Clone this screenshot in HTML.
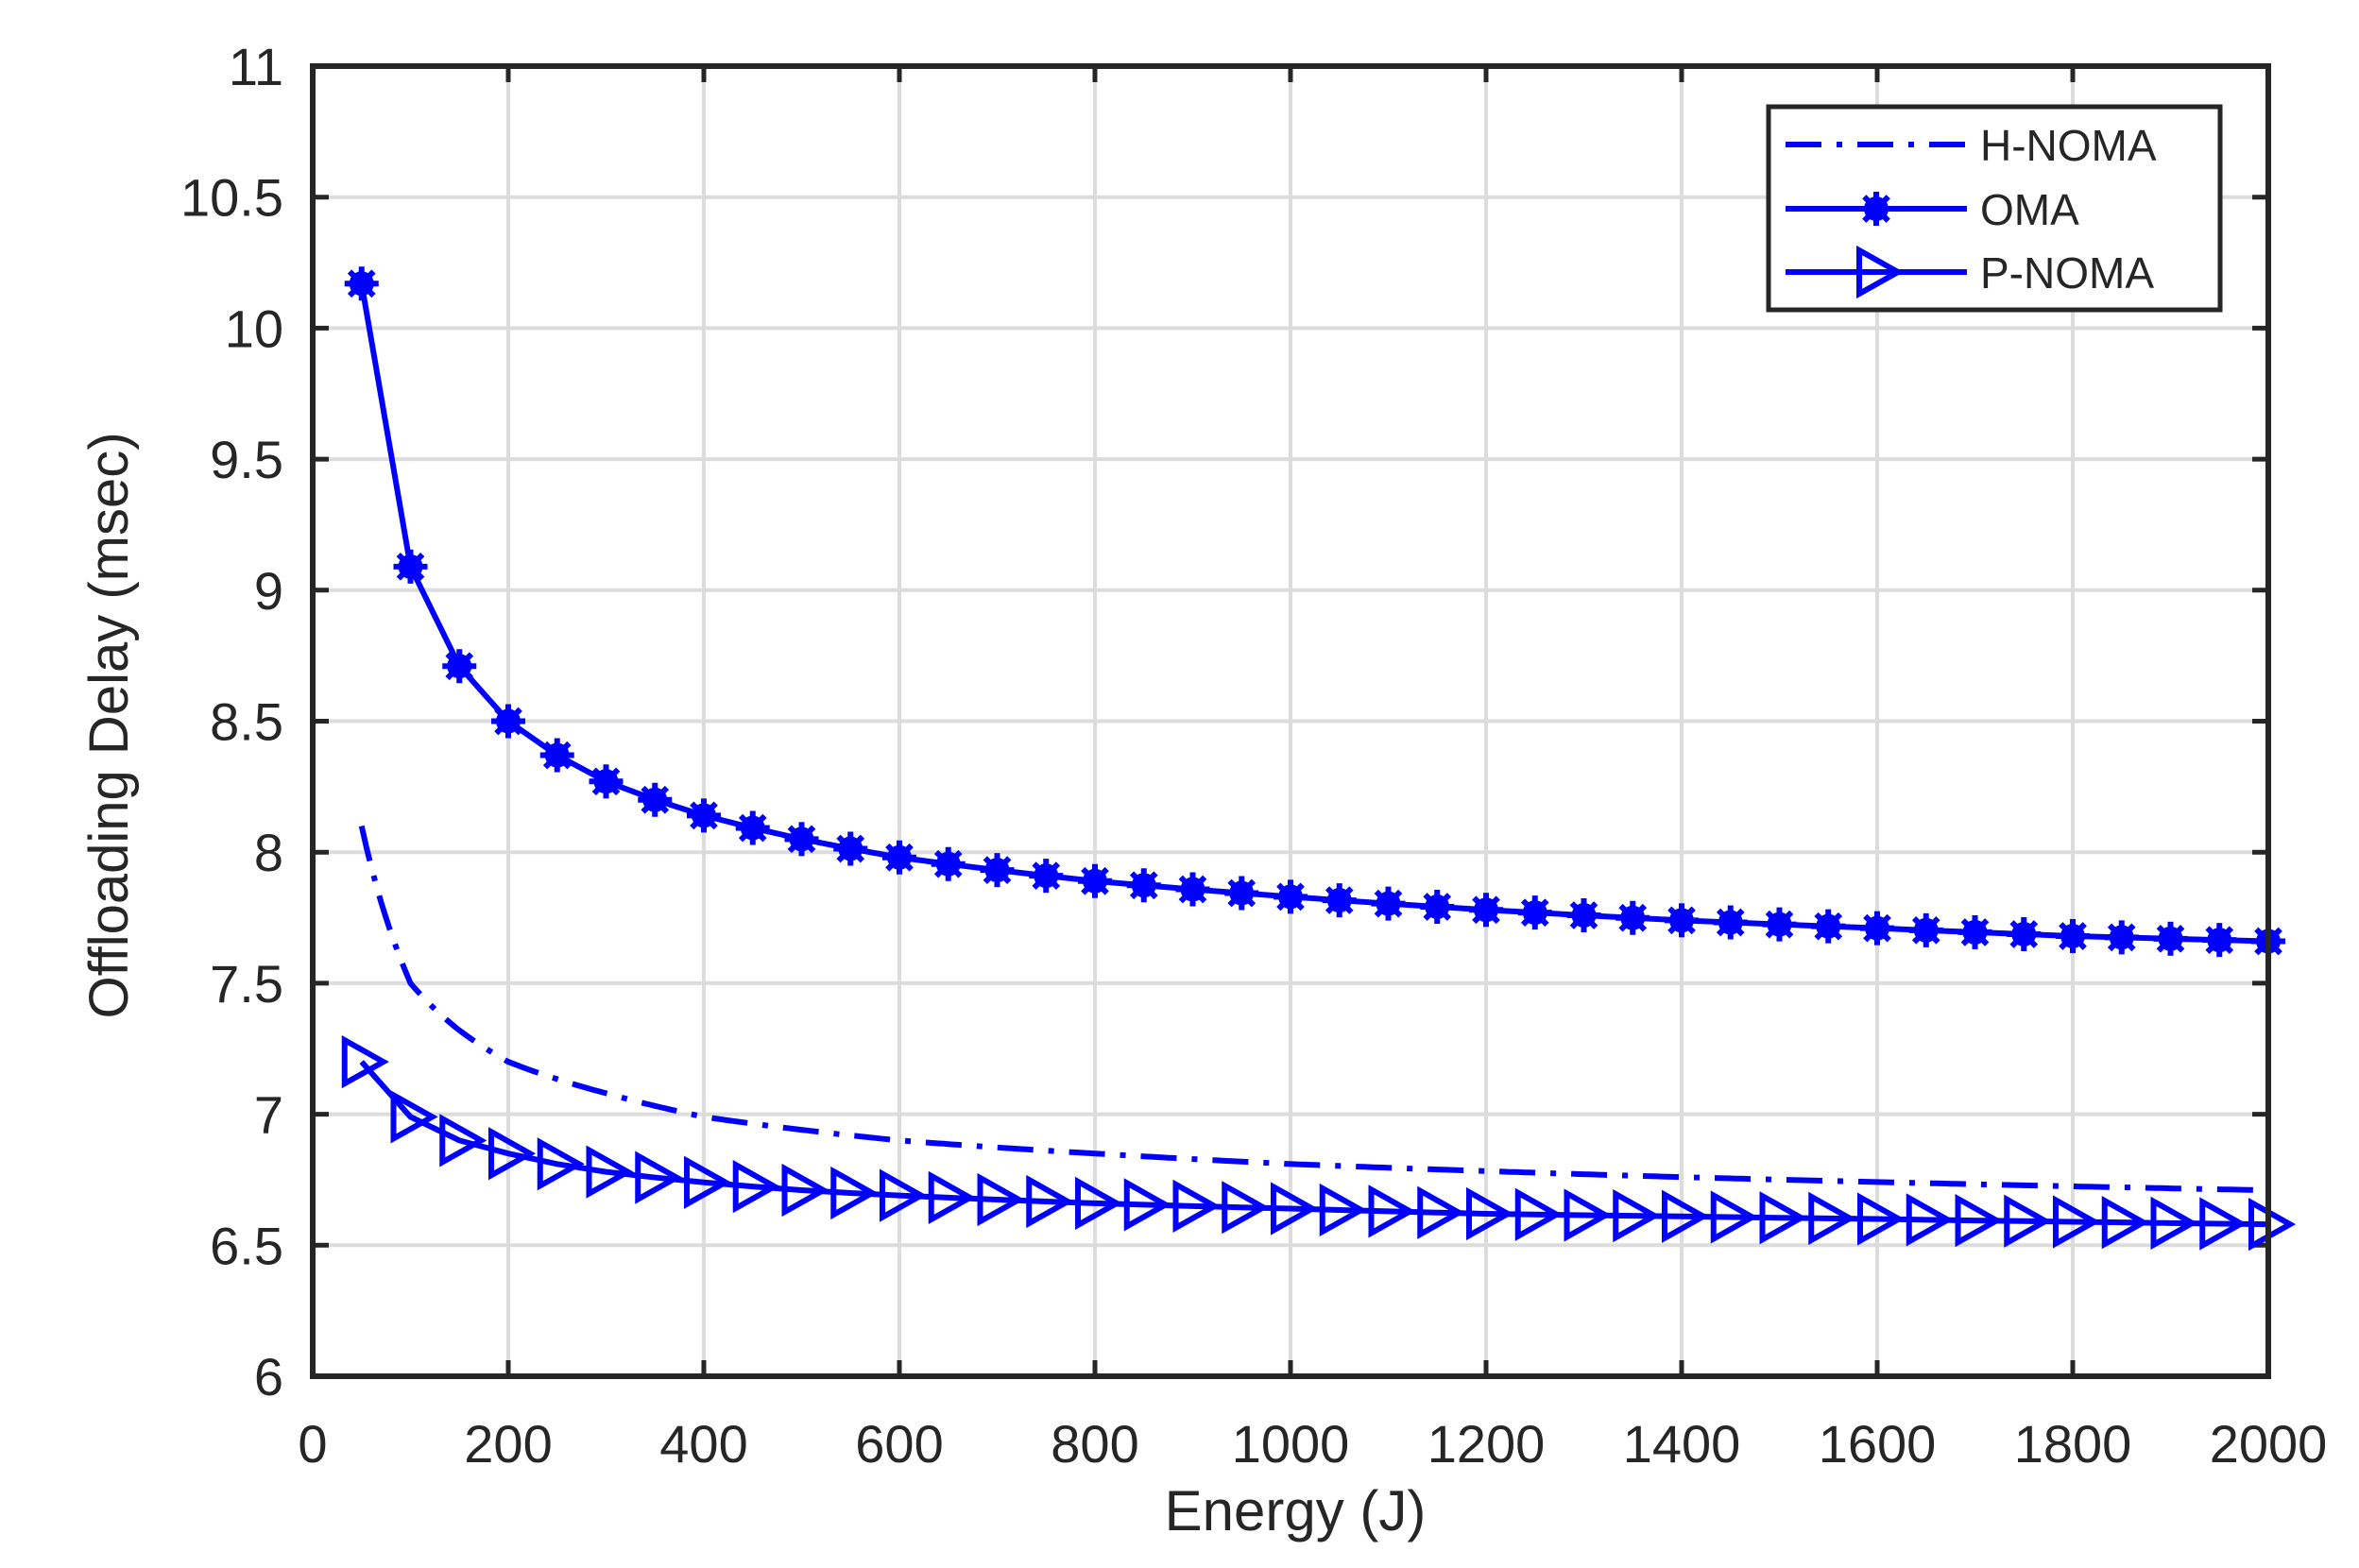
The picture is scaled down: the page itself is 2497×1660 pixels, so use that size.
<!DOCTYPE html>
<html><head><meta charset="utf-8"><style>
html,body{margin:0;padding:0;background:#fff;}
svg{display:block;}
text{font-family:"Liberation Sans",Arial,sans-serif;fill:#262626;}
</style></head><body>
<svg id="s" width="2497" height="1660" xmlns="http://www.w3.org/2000/svg">
<rect width="2497" height="1660" fill="#fff"/>
<g id="grid" stroke="#dcdcdc" stroke-width="4"></g>
<g id="ticks" stroke="#262626" stroke-width="5"></g>
<g id="labels" font-size="56"></g>
<g id="series"></g>
<rect x="331" y="70" width="2070" height="1387" fill="none" stroke="#262626" stroke-width="6"/>
<text x="1371" y="1620" font-size="60" text-anchor="middle">Energy (J)</text>
<text transform="translate(135,768) rotate(-90)" font-size="58" text-anchor="middle">Offloading Delay (msec)</text>
<g id="legend">
<rect x="1872" y="113" width="478" height="215" fill="#fff" stroke="#262626" stroke-width="5"/>
<line x1="1890" y1="153" x2="2082" y2="153" stroke="#0000ff" stroke-width="6" stroke-dasharray="38,16,6,16"/>
<line x1="1890" y1="221" x2="2082" y2="221" stroke="#0000ff" stroke-width="6"/>
<line x1="1890" y1="288" x2="2082" y2="288" stroke="#0000ff" stroke-width="6"/>
<text x="2096" y="170" font-size="46">H-NOMA</text>
<text x="2096" y="238" font-size="46">OMA</text>
<text x="2096" y="305" font-size="46">P-NOMA</text>
</g>
</svg>
<script>
const NS="http://www.w3.org/2000/svg";
const X=e=>331+e*1.035, Y=v=>70+(11-v)*277.4;
function el(p,t,a){const e=document.createElementNS(NS,t);for(const k in a)e.setAttribute(k,a[k]);p.appendChild(e);return e;}
const g=document.getElementById('grid'),tk=document.getElementById('ticks'),lb=document.getElementById('labels');
for(let e=0;e<=2000;e+=200){const x=X(e);
 if(e>0&&e<2000)el(g,'line',{x1:x,y1:70,x2:x,y2:1457});
 el(tk,'line',{x1:x,y1:1457,x2:x,y2:1440});el(tk,'line',{x1:x,y1:70,x2:x,y2:87});
 const t=el(lb,'text',{x:x,y:1548,'text-anchor':'middle'});t.textContent=e;}
for(let i=0;i<=10;i++){const v=6+i*0.5,y=Y(v);
 if(i>0&&i<10)el(g,'line',{x1:331,y1:y,x2:2401,y2:y});
 el(tk,'line',{x1:331,y1:y,x2:348,y2:y});el(tk,'line',{x1:2401,y1:y,x2:2384,y2:y});
 const t=el(lb,'text',{x:300,y:y+20,'text-anchor':'end'});t.textContent=(v%1?v.toFixed(1):v);}
function interp(a,e){for(let i=0;i<a.length-1;i++){const[x0,y0]=a[i],[x1,y1]=a[i+1];if(e>=x0&&e<=x1){const t=(Math.log(e)-Math.log(x0))/(Math.log(x1)-Math.log(x0));return y0+t*(y1-y0);}}return a[a.length-1][1];}
const oma=[[50,10.17],[100,9.09],[150,8.71],[200,8.5],[250,8.37],[300,8.27],[350,8.2],[400,8.14],[500,8.05],[600,7.98],[800,7.89],[1000,7.83],[1200,7.78],[1400,7.74],[1600,7.71],[1800,7.68],[2000,7.66]];
const pn=[[50,7.2],[100,6.99],[150,6.9],[200,6.85],[250,6.81],[300,6.78],[400,6.74],[500,6.71],[600,6.69],[800,6.66],[1000,6.64],[1200,6.62],[1400,6.61],[1600,6.6],[2000,6.58]];
const hn=[[50,8.1],[100,7.5],[150,7.32],[200,7.2],[300,7.08],[400,6.99],[600,6.9],[800,6.85],[1000,6.81],[1400,6.76],[2000,6.71]];
const sg=document.getElementById('series'),lg=document.getElementById('legend');
let pts=[];for(let e=50;e<=2000;e+=5)pts.push(X(e)+','+Y(interp(hn,e)).toFixed(1));
el(sg,'polyline',{points:pts.join(' '),fill:'none',stroke:'#0000ff','stroke-width':6,'stroke-dasharray':'38,16,6,16'});
function star(p,x,y){el(p,'circle',{cx:x,cy:y,r:13,fill:'#0000ff'});
 for(let k=0;k<4;k++){const a=k*Math.PI/4;el(p,'line',{x1:x-18*Math.cos(a),y1:y-18*Math.sin(a),x2:x+18*Math.cos(a),y2:y+18*Math.sin(a),stroke:'#0000ff','stroke-width':6});}}
function tri(p,x,y){el(p,'polygon',{points:`${x-18},${y-23} ${x+23},${y} ${x-18},${y+23}`,fill:'none',stroke:'#0000ff','stroke-width':6});}
function ser(a,mk){let p=[];for(let e=50;e<=2000;e+=50)p.push([X(e),Y(interp(a,e))]);
 el(sg,'polyline',{points:p.map(q=>q.join(',')).join(' '),fill:'none',stroke:'#0000ff','stroke-width':6});
 p.forEach(([x,y])=>mk(sg,x,y));}
ser(oma,star);ser(pn,tri);
star(lg,1986,221);tri(lg,1986,288);
</script>
</body></html>
